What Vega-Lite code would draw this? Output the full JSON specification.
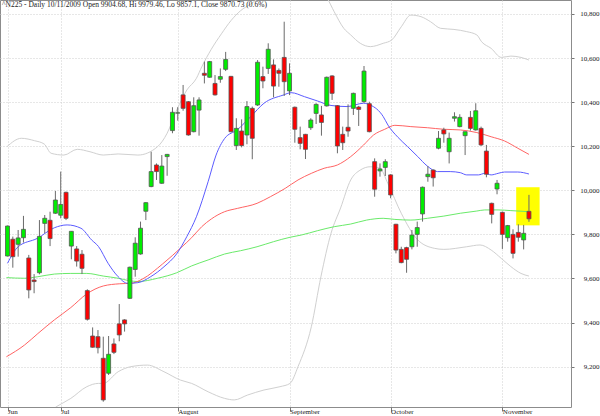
{
"$schema": "https://vega.github.io/schema/vega-lite/v6.json",
"width": 571, "height": 407,
"autosize": "none",
"padding": {"left": 0, "top": 0, "right": 29, "bottom": 9},
"background": "white",
"config": {
 "view": {"stroke": "#8c8c8c", "strokeWidth": 1},
 "axis": {"labelFont": "Liberation Serif", "labelFontSize": 7, "labelColor": "#222", "tickColor": "#777", "gridColor": "#cfcfcf", "gridDash": [1, 2], "domain": false, "title": null}
},
"title": {"text": "^N225 - Daily 10/11/2009 Open 9904.68, Hi 9979.46, Lo 9857.1, Close 9870.73 (0.6%)", "anchor": "start", "frame": "group", "orient": "top", "offset": -8, "dx": 2, "font": "Liberation Serif", "fontSize": 7.5, "fontWeight": "normal", "color": "#222"},
"datasets": {
 "hl": [{"i1": 95.6, "i2": 100.0, "lo": 9841, "hi": 10014}],
 "candles": [
  {"i":0,"o":9702,"h":9840,"l":9700,"c":9838},
  {"i":1,"o":9778,"h":9790,"l":9649,"c":9699},
  {"i":2,"o":9755,"h":9820,"l":9699,"c":9784},
  {"i":3,"o":9785,"h":9884,"l":9763,"c":9823},
  {"i":4,"o":9693,"h":9707,"l":9510,"c":9548},
  {"i":5,"o":9593,"h":9620,"l":9533,"c":9586},
  {"i":6,"o":9626,"h":9865,"l":9619,"c":9791},
  {"i":7,"o":9850,"h":9888,"l":9805,"c":9873},
  {"i":8,"o":9864,"h":9903,"l":9747,"c":9781},
  {"i":9,"o":9896,"h":9997,"l":9893,"c":9956},
  {"i":10,"o":9887,"h":10085,"l":9873,"c":9936},
  {"i":11,"o":9991,"h":9994,"l":9865,"c":9873},
  {"i":12,"o":9747,"h":9814,"l":9687,"c":9814},
  {"i":13,"o":9734,"h":9747,"l":9654,"c":9679},
  {"i":14,"o":9710,"h":9729,"l":9620,"c":9646},
  {"i":15,"o":9545,"h":9551,"l":9409,"c":9415},
  {"i":16,"o":9339,"h":9378,"l":9286,"c":9288},
  {"i":17,"o":9336,"h":9366,"l":9260,"c":9286},
  {"i":18,"o":9238,"h":9336,"l":9041,"c":9049},
  {"i":19,"o":9170,"h":9339,"l":9162,"c":9256},
  {"i":20,"o":9303,"h":9328,"l":9257,"c":9265},
  {"i":21,"o":9394,"h":9484,"l":9315,"c":9344},
  {"i":22,"o":9412,"h":9415,"l":9359,"c":9394},
  {"i":23,"o":9510,"h":9654,"l":9507,"c":9651},
  {"i":24,"o":9641,"h":9787,"l":9608,"c":9760},
  {"i":25,"o":9711,"h":9858,"l":9708,"c":9828},
  {"i":26,"o":9905,"h":9946,"l":9865,"c":9944},
  {"i":27,"o":10017,"h":10175,"l":10014,"c":10085},
  {"i":28,"o":10115,"h":10122,"l":10047,"c":10085},
  {"i":29,"o":10032,"h":10160,"l":10029,"c":10110},
  {"i":30,"o":10153,"h":10165,"l":10066,"c":10163},
  {"i":31,"o":10271,"h":10377,"l":10259,"c":10354},
  {"i":32,"o":10350,"h":10377,"l":10316,"c":10352},
  {"i":33,"o":10433,"h":10478,"l":10361,"c":10372},
  {"i":34,"o":10402,"h":10405,"l":10248,"c":10251},
  {"i":35,"o":10266,"h":10422,"l":10263,"c":10384},
  {"i":36,"o":10364,"h":10422,"l":10248,"c":10410},
  {"i":37,"o":10531,"h":10584,"l":10485,"c":10522},
  {"i":38,"o":10513,"h":10587,"l":10511,"c":10584},
  {"i":39,"o":10485,"h":10523,"l":10430,"c":10433},
  {"i":40,"o":10504,"h":10553,"l":10488,"c":10516},
  {"i":41,"o":10549,"h":10628,"l":10541,"c":10594},
  {"i":42,"o":10517,"h":10519,"l":10263,"c":10266},
  {"i":43,"o":10203,"h":10327,"l":10183,"c":10281},
  {"i":44,"o":10269,"h":10322,"l":10195,"c":10203},
  {"i":45,"o":10251,"h":10405,"l":10209,"c":10380},
  {"i":46,"o":10372,"h":10380,"l":10141,"c":10236},
  {"i":47,"o":10387,"h":10591,"l":10383,"c":10581},
  {"i":48,"o":10516,"h":10561,"l":10463,"c":10496},
  {"i":49,"o":10553,"h":10667,"l":10528,"c":10640},
  {"i":50,"o":10569,"h":10594,"l":10422,"c":10473},
  {"i":51,"o":10544,"h":10553,"l":10470,"c":10531},
  {"i":52,"o":10603,"h":10765,"l":10428,"c":10493},
  {"i":53,"o":10451,"h":10576,"l":10432,"c":10531},
  {"i":54,"o":10377,"h":10380,"l":10216,"c":10277},
  {"i":55,"o":10239,"h":10289,"l":10186,"c":10213},
  {"i":56,"o":10254,"h":10256,"l":10142,"c":10186},
  {"i":57,"o":10284,"h":10327,"l":10274,"c":10319},
  {"i":58,"o":10349,"h":10395,"l":10301,"c":10390},
  {"i":59,"o":10342,"h":10383,"l":10248,"c":10308},
  {"i":60,"o":10383,"h":10516,"l":10380,"c":10513},
  {"i":61,"o":10519,"h":10522,"l":10410,"c":10440},
  {"i":62,"o":10384,"h":10387,"l":10168,"c":10201},
  {"i":63,"o":10254,"h":10289,"l":10183,"c":10216},
  {"i":64,"o":10286,"h":10390,"l":10243,"c":10269},
  {"i":65,"o":10372,"h":10443,"l":10342,"c":10440},
  {"i":66,"o":10378,"h":10383,"l":10292,"c":10367},
  {"i":67,"o":10402,"h":10564,"l":10398,"c":10541},
  {"i":68,"o":10393,"h":10402,"l":10263,"c":10266},
  {"i":69,"o":10130,"h":10145,"l":9971,"c":10005},
  {"i":70,"o":10088,"h":10122,"l":10062,"c":10097},
  {"i":71,"o":10104,"h":10141,"l":10065,"c":10130},
  {"i":72,"o":10070,"h":10073,"l":9964,"c":9979},
  {"i":73,"o":9846,"h":9848,"l":9714,"c":9729},
  {"i":74,"o":9732,"h":9744,"l":9669,"c":9672},
  {"i":75,"o":9740,"h":9744,"l":9626,"c":9687},
  {"i":76,"o":9744,"h":9820,"l":9732,"c":9797},
  {"i":77,"o":9800,"h":9858,"l":9744,"c":9831},
  {"i":78,"o":9893,"h":10017,"l":9858,"c":10014},
  {"i":79,"o":10062,"h":10110,"l":10039,"c":10073},
  {"i":80,"o":10092,"h":10095,"l":10017,"c":10057},
  {"i":81,"o":10191,"h":10269,"l":10186,"c":10236},
  {"i":82,"o":10274,"h":10284,"l":10216,"c":10256},
  {"i":83,"o":10175,"h":10262,"l":10122,"c":10236},
  {"i":84,"o":10327,"h":10354,"l":10312,"c":10334},
  {"i":85,"o":10289,"h":10345,"l":10286,"c":10331},
  {"i":86,"o":10248,"h":10266,"l":10160,"c":10266},
  {"i":87,"o":10331,"h":10360,"l":10271,"c":10281},
  {"i":88,"o":10274,"h":10395,"l":10271,"c":10361},
  {"i":89,"o":10281,"h":10289,"l":10201,"c":10206},
  {"i":90,"o":10178,"h":10206,"l":10059,"c":10073},
  {"i":91,"o":9941,"h":9944,"l":9850,"c":9891},
  {"i":92,"o":10006,"h":10047,"l":9982,"c":10032},
  {"i":93,"o":9900,"h":9903,"l":9734,"c":9800},
  {"i":94,"o":9785,"h":9843,"l":9767,"c":9840},
  {"i":95,"o":9800,"h":9823,"l":9691,"c":9714},
  {"i":96,"o":9809,"h":9846,"l":9767,"c":9787},
  {"i":97,"o":9775,"h":9843,"l":9732,"c":9805},
  {"i":98,"o":9904.68,"h":9979.46,"l":9857.1,"c":9870.73}
 ],
 "lines": [
  {"s":"upper","i":-0.1,"v":10198},{"s":"upper","i":2.6,"v":10236},{"s":"upper","i":5.1,"v":10225},{"s":"upper","i":6.9,"v":10210},{"s":"upper","i":8.2,"v":10168},{"s":"upper","i":10.6,"v":10160},{"s":"upper","i":13.1,"v":10186},{"s":"upper","i":15.5,"v":10175},{"s":"upper","i":18,"v":10160},{"s":"upper","i":20.8,"v":10165},{"s":"upper","i":24.5,"v":10160},{"s":"upper","i":28.2,"v":10198},{"s":"upper","i":30,"v":10259},{"s":"upper","i":31.8,"v":10364},{"s":"upper","i":33.7,"v":10455},{"s":"upper","i":35.5,"v":10508},{"s":"upper","i":36.5,"v":10560},{"s":"upper","i":38.3,"v":10640},{"s":"upper","i":40.2,"v":10710},{"s":"upper","i":42,"v":10770},{"s":"upper","i":43.8,"v":10815},{"s":"upper","i":45.7,"v":10845},{"s":"upper","i":47,"v":10868},{"s":"upper","i":48.5,"v":10890},{"s":"upper","i":51.2,"v":10920},{"s":"upper","i":54.9,"v":10935},{"s":"upper","i":57.7,"v":10915},{"s":"upper","i":60.1,"v":10870},{"s":"upper","i":61.4,"v":10810},{"s":"upper","i":63.2,"v":10735},{"s":"upper","i":64.5,"v":10705},{"s":"upper","i":66.3,"v":10667},{"s":"upper","i":68.2,"v":10652},{"s":"upper","i":70.6,"v":10667},{"s":"upper","i":72.2,"v":10682},{"s":"upper","i":74,"v":10742},{"s":"upper","i":75.8,"v":10795},{"s":"upper","i":77.7,"v":10788},{"s":"upper","i":79.5,"v":10765},{"s":"upper","i":81.4,"v":10735},{"s":"upper","i":83.9,"v":10730},{"s":"upper","i":86.3,"v":10720},{"s":"upper","i":88.2,"v":10705},{"s":"upper","i":89.1,"v":10674},{"s":"upper","i":90.9,"v":10644},{"s":"upper","i":92.8,"v":10603},{"s":"upper","i":94.6,"v":10609},{"s":"upper","i":96.5,"v":10603},{"s":"upper","i":98,"v":10591},
  {"s":"lower","i":-0.1,"v":8960},{"s":"lower","i":5,"v":8950},{"s":"lower","i":9.3,"v":9020},{"s":"lower","i":11.9,"v":9056},{"s":"lower","i":14.9,"v":9109},{"s":"lower","i":17.1,"v":9124},{"s":"lower","i":18,"v":9124},{"s":"lower","i":20.8,"v":9177},{"s":"lower","i":23.2,"v":9200},{"s":"lower","i":26.3,"v":9207},{"s":"lower","i":29.4,"v":9177},{"s":"lower","i":32.5,"v":9139},{"s":"lower","i":34.6,"v":9124},{"s":"lower","i":37.7,"v":9086},{"s":"lower","i":40.8,"v":9056},{"s":"lower","i":42.6,"v":9049},{"s":"lower","i":45.1,"v":9071},{"s":"lower","i":48.2,"v":9094},{"s":"lower","i":51.2,"v":9109},{"s":"lower","i":53.1,"v":9124},{"s":"lower","i":54.6,"v":9200},{"s":"lower","i":57.1,"v":9381},{"s":"lower","i":58.9,"v":9608},{"s":"lower","i":60.8,"v":9805},{"s":"lower","i":62.6,"v":9920},{"s":"lower","i":64.5,"v":10047},{"s":"lower","i":66.3,"v":10092},{"s":"lower","i":68.2,"v":10107},{"s":"lower","i":70,"v":10100},{"s":"lower","i":71.5,"v":10030},{"s":"lower","i":74,"v":9896},{"s":"lower","i":77.1,"v":9775},{"s":"lower","i":80.2,"v":9737},{"s":"lower","i":82,"v":9732},{"s":"lower","i":86.3,"v":9744},{"s":"lower","i":88.8,"v":9752},{"s":"lower","i":90.9,"v":9729},{"s":"lower","i":92.8,"v":9691},{"s":"lower","i":94.6,"v":9654},{"s":"lower","i":96.5,"v":9623},{"s":"lower","i":98,"v":9611},
  {"s":"green","i":-0.2,"v":9604},{"s":"green","i":3.2,"v":9601},{"s":"green","i":5.7,"v":9608},{"s":"green","i":8.8,"v":9620},{"s":"green","i":11.9,"v":9623},{"s":"green","i":14.9,"v":9623},{"s":"green","i":18,"v":9611},{"s":"green","i":20.8,"v":9601},{"s":"green","i":22.9,"v":9590},{"s":"green","i":24.5,"v":9586},{"s":"green","i":28.2,"v":9601},{"s":"green","i":31.8,"v":9626},{"s":"green","i":34.6,"v":9657},{"s":"green","i":37.7,"v":9684},{"s":"green","i":40.8,"v":9711},{"s":"green","i":43.8,"v":9726},{"s":"green","i":46.9,"v":9744},{"s":"green","i":50,"v":9767},{"s":"green","i":53.1,"v":9787},{"s":"green","i":55.2,"v":9797},{"s":"green","i":58.3,"v":9817},{"s":"green","i":61.4,"v":9835},{"s":"green","i":64.5,"v":9847},{"s":"green","i":67.5,"v":9865},{"s":"green","i":70.6,"v":9873},{"s":"green","i":72.8,"v":9868},{"s":"green","i":75.8,"v":9865},{"s":"green","i":78.9,"v":9873},{"s":"green","i":82,"v":9883},{"s":"green","i":85.1,"v":9896},{"s":"green","i":88.2,"v":9906},{"s":"green","i":89.7,"v":9911},{"s":"green","i":92.2,"v":9911},{"s":"green","i":94.6,"v":9908},{"s":"green","i":98,"v":9903},
  {"s":"red","i":-0.2,"v":9245},{"s":"red","i":3.2,"v":9298},{"s":"red","i":5.7,"v":9350},{"s":"red","i":8.8,"v":9412},{"s":"red","i":11.9,"v":9468},{"s":"red","i":14.9,"v":9530},{"s":"red","i":18,"v":9566},{"s":"red","i":21.1,"v":9576},{"s":"red","i":23.2,"v":9578},{"s":"red","i":25.4,"v":9598},{"s":"red","i":29.1,"v":9665},{"s":"red","i":32.8,"v":9744},{"s":"red","i":34.6,"v":9785},{"s":"red","i":36.5,"v":9835},{"s":"red","i":38.3,"v":9870},{"s":"red","i":40.8,"v":9903},{"s":"red","i":43.2,"v":9918},{"s":"red","i":46.9,"v":9941},{"s":"red","i":49.4,"v":9971},{"s":"red","i":52.2,"v":10009},{"s":"red","i":54.6,"v":10047},{"s":"red","i":57.1,"v":10077},{"s":"red","i":59.5,"v":10100},{"s":"red","i":62,"v":10115},{"s":"red","i":64.5,"v":10153},{"s":"red","i":66.9,"v":10205},{"s":"red","i":68.8,"v":10251},{"s":"red","i":70.9,"v":10277},{"s":"red","i":72.8,"v":10295},{"s":"red","i":75.8,"v":10289},{"s":"red","i":78.9,"v":10284},{"s":"red","i":82,"v":10277},{"s":"red","i":85.1,"v":10274},{"s":"red","i":88.2,"v":10262},{"s":"red","i":90.9,"v":10243},{"s":"red","i":93.4,"v":10224},{"s":"red","i":95.9,"v":10191},{"s":"red","i":98,"v":10163},
  {"s":"blue","i":0,"v":9669},{"s":"blue","i":2,"v":9744},{"s":"blue","i":5.6,"v":9782},{"s":"blue","i":8.8,"v":9830},{"s":"blue","i":11.2,"v":9843},{"s":"blue","i":13.8,"v":9828},{"s":"blue","i":15.8,"v":9775},{"s":"blue","i":17.1,"v":9745},{"s":"blue","i":18.9,"v":9669},{"s":"blue","i":20.8,"v":9608},{"s":"blue","i":22.6,"v":9578},{"s":"blue","i":24.5,"v":9581},{"s":"blue","i":26.9,"v":9608},{"s":"blue","i":29.4,"v":9653},{"s":"blue","i":31.8,"v":9712},{"s":"blue","i":33.7,"v":9790},{"s":"blue","i":35.5,"v":9880},{"s":"blue","i":37.7,"v":10039},{"s":"blue","i":39.2,"v":10160},{"s":"blue","i":40.8,"v":10235},{"s":"blue","i":43.2,"v":10275},{"s":"blue","i":45.7,"v":10334},{"s":"blue","i":48.2,"v":10395},{"s":"blue","i":51.8,"v":10432},{"s":"blue","i":53.3,"v":10443},{"s":"blue","i":55.8,"v":10425},{"s":"blue","i":58.3,"v":10405},{"s":"blue","i":60.8,"v":10385},{"s":"blue","i":63.8,"v":10380},{"s":"blue","i":66.9,"v":10395},{"s":"blue","i":68.2,"v":10387},{"s":"blue","i":70.6,"v":10335},{"s":"blue","i":71.5,"v":10296},{"s":"blue","i":73.4,"v":10240},{"s":"blue","i":75.2,"v":10198},{"s":"blue","i":77.1,"v":10153},{"s":"blue","i":78.9,"v":10110},{"s":"blue","i":80.8,"v":10085},{"s":"blue","i":83.2,"v":10085},{"s":"blue","i":85.1,"v":10080},{"s":"blue","i":86.3,"v":10070},{"s":"blue","i":88.5,"v":10070},{"s":"blue","i":89.7,"v":10077},{"s":"blue","i":90.9,"v":10070},{"s":"blue","i":92.2,"v":10077},{"s":"blue","i":93.4,"v":10083},{"s":"blue","i":95.9,"v":10083},{"s":"blue","i":98,"v":10074}
 ]
},
"layer": [
 {
  "data": {"name": "hl"},
  "mark": {"type": "rect", "color": "#ffff00"},
  "encoding": {
   "x": {"field": "i1", "type": "quantitative", "scale": {"domain": [-0.47, 104.96], "nice": false, "zero": false},
     "axis": {"orient": "bottom", "values": [0, 10, 32, 53, 72, 93], "grid": true, "tickSize": 4, "labelAlign": "left", "labelBaseline": "top", "labelPadding": -4, "labelDx": 1.5, "labelFlush": false, "labelOverlap": false,
       "labelExpr": "datum.value == 0 ? 'Jun' : datum.value == 10 ? 'Jul' : datum.value == 32 ? 'August' : datum.value == 53 ? 'September' : datum.value == 72 ? 'October' : 'November'"}},
   "x2": {"field": "i2"},
   "y": {"field": "lo", "type": "quantitative", "scale": {"domain": [9016.9, 10863.5], "nice": false, "zero": false},
     "axis": {"orient": "right", "values": [9200, 9400, 9600, 9800, 10000, 10200, 10400, 10600, 10800], "format": ",.0f", "grid": true, "tickSize": 3, "labelAlign": "right", "labelPadding": 25, "labelBaseline": "middle"}},
   "y2": {"field": "hi"}
  }
 },
 {
  "data": {"name": "lines"},
  "mark": {"type": "line", "strokeWidth": 1, "clip": true, "interpolate": "monotone"},
  "encoding": {
   "x": {"field": "i", "type": "quantitative"},
   "y": {"field": "v", "type": "quantitative"},
   "color": {"field": "s", "type": "nominal", "legend": null,
     "scale": {"domain": ["upper", "lower", "green", "red", "blue"], "range": ["#d0d0d0", "#d0d0d0", "#6aea6a", "#ff6464", "#5c5cff"]}},
   "order": {"field": "i", "type": "quantitative"}
  }
 },
 {
  "data": {"name": "candles"},
  "mark": {"type": "rule", "color": "#6a6a6a", "strokeWidth": 1},
  "encoding": {
   "x": {"field": "i", "type": "quantitative"},
   "y": {"field": "l", "type": "quantitative"},
   "y2": {"field": "h"}
  }
 },
 {
  "data": {"name": "candles"},
  "mark": {"type": "bar", "width": 4, "stroke": "#555555", "strokeWidth": 0.8},
  "encoding": {
   "x": {"field": "i", "type": "quantitative"},
   "y": {"field": "o", "type": "quantitative"},
   "y2": {"field": "c"},
   "color": {"condition": {"test": "datum.c >= datum.o", "value": "#00ee00"}, "value": "#ff0000"}
  }
 }
]
}
